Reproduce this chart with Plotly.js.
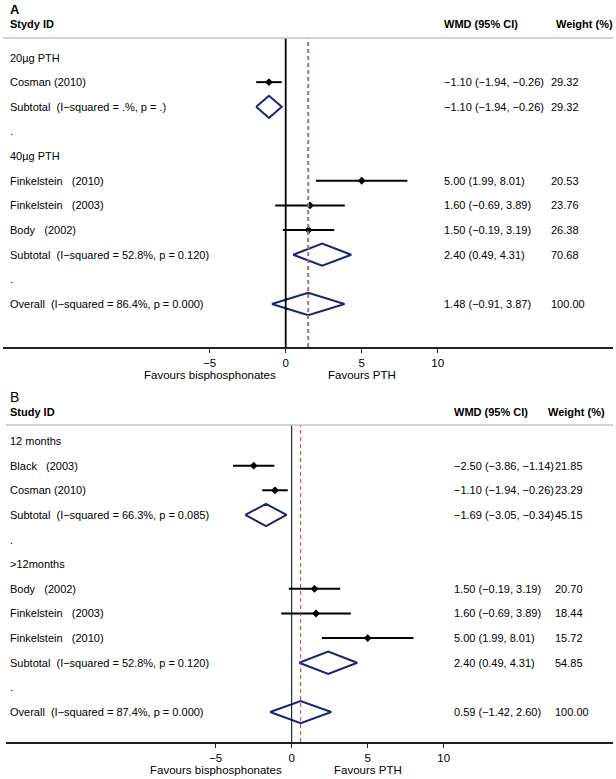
<!DOCTYPE html>
<html>
<head>
<meta charset="utf-8">
<script src="https://cdn.plot.ly/plotly-3.0.1.min.js"></script>
<style>html,body{margin:0;padding:0;background:#fff;}#plot{width:616px;height:779px;}</style>
</head>
<body>
<div id="plot"></div>
<script>
// ---------- DATA ----------
// Panel A
const labelsA = ["20µg PTH", "Cosman (2010)", "Subtotal  (I−squared = .%, p = .)", ".", "40µg PTH",
  "Finkelstein   (2010)", "Finkelstein   (2003)", "Body   (2002)",
  "Subtotal  (I−squared = 52.8%, p = 0.120)", ".", "Overall  (I−squared = 86.4%, p = 0.000)"];
const typesA = ["head", "study", "sub", "blank", "head", "study", "study", "study", "sub", "blank", "overall"];
const estA = [null, -1.10, -1.10, null, null, 5.00, 1.60, 1.50, 2.40, null, 1.48];
const loA  = [null, -1.94, -1.94, null, null, 1.99, -0.69, -0.19, 0.49, null, -0.91];
const hiA  = [null, -0.26, -0.26, null, null, 8.01, 3.89, 3.19, 4.31, null, 3.87];
const wA   = [null, "29.32", "29.32", null, null, "20.53", "23.76", "26.38", "70.68", null, "100.00"];

// Panel B
const labelsB = ["12 months", "Black   (2003)", "Cosman (2010)", "Subtotal  (I−squared = 66.3%, p = 0.085)", ".",
  ">12months", "Body   (2002)", "Finkelstein   (2003)", "Finkelstein   (2010)",
  "Subtotal  (I−squared = 52.8%, p = 0.120)", ".", "Overall  (I−squared = 87.4%, p = 0.000)"];
const typesB = ["head", "study", "study", "sub", "blank", "head", "study", "study", "study", "sub", "blank", "overall"];
const estB = [null, -2.50, -1.10, -1.69, null, null, 1.50, 1.60, 5.00, 2.40, null, 0.59];
const loB  = [null, -3.86, -1.94, -3.05, null, null, -0.19, -0.69, 1.99, 0.49, null, -1.42];
const hiB  = [null, -1.14, -0.26, -0.34, null, null, 3.19, 3.89, 8.01, 4.31, null, 2.60];
const wB   = [null, "21.85", "23.29", "45.15", null, null, "20.70", "18.44", "15.72", "54.85", null, "100.00"];

const tickVals = [-5, 0, 5, 10];
const tickText = ["−5", "0", "5", "10"];

// ---------- STYLE / LAYOUT ----------
const W = 616, H = 779;
const FONT = "Liberation Sans, Arial, sans-serif";
const px = v => v / W;
const py = v => 1 - v / H;
const fmt = v => (v < 0 ? "−" : "") + Math.abs(v).toFixed(2);

const panels = [
  { labels: labelsA, types: typesA, est: estA, lo: loA, hi: hiA, w: wA,
    xa: "x", ya: "y", zeroPx: 285.7, pxPerUnit: 15.2, left: 3, right: 613,
    top: 38, bottom: 347, row0: 57.5, rowStep: 24.65,
    letter: "A", letterBold: true, letterY: 9, headY: 24, headText: "Stydy ID",
    wmdX: 442, wHeadX: 554, wX: 549,
    zeroW: 1.8, dashColor: "#a0727d", dashW: 2 },
  { labels: labelsB, types: typesB, est: estB, lo: loB, hi: hiB, w: wB,
    xa: "x2", ya: "y2", zeroPx: 291.7, pxPerUnit: 15.2, left: 6, right: 613,
    top: 425, bottom: 742, row0: 441, rowStep: 24.64,
    letter: "B", letterBold: false, letterY: 397, headY: 412, headText: "Study ID",
    wmdX: 452, wHeadX: 546, wX: 553,
    zeroW: 1, dashColor: "#c0392b", dashW: 1 }
];

const traces = [];
const shapes = [];
const annotations = [];
const layout = {
  width: W, height: H, margin: { l: 0, r: 0, t: 0, b: 0 },
  paper_bgcolor: "#fff", plot_bgcolor: "rgba(0,0,0,0)", showlegend: false,
  font: { family: FONT, size: 11, color: "#000" }
};

panels.forEach((p, k) => {
  const sfx = k === 0 ? "" : "2";
  const xmin = (p.left - p.zeroPx) / p.pxPerUnit;
  const xmax = (p.right - p.zeroPx) / p.pxPerUnit;
  const rTop = (p.top - p.row0) / p.rowStep;
  const rBot = (p.bottom - p.row0) / p.rowStep;
  layout["xaxis" + sfx] = {
    domain: [px(p.left), px(p.right)], range: [xmin, xmax], anchor: "y" + sfx,
    showline: true, linecolor: "#222", linewidth: 2, mirror: false,
    ticks: "outside", ticklen: 4, tickwidth: 1.2, tickcolor: "#222",
    tickvals: tickVals, ticktext: tickText, tickfont: { family: FONT, size: 11.5, color: "#000" },
    showgrid: false, zeroline: false, fixedrange: true
  };
  layout["yaxis" + sfx] = {
    domain: [py(p.bottom), py(p.top)], range: [rBot, rTop], anchor: "x" + sfx,
    visible: false, showgrid: false, zeroline: false, fixedrange: true
  };

  // zero line & overall dashed line
  const ovIdx = p.types.indexOf("overall");
  shapes.push({ type: "line", xref: p.xa, yref: p.ya + " domain", x0: 0, x1: 0, y0: 0, y1: 1,
    line: { color: "#000", width: p.zeroW } });
  shapes.push({ type: "line", xref: p.xa, yref: p.ya + " domain", x0: p.est[ovIdx], x1: p.est[ovIdx], y0: 0, y1: 1,
    line: { color: p.dashColor, width: p.dashW, dash: "4px,3px" } });
  // header separator
  shapes.push({ type: "line", xref: "paper", yref: "paper", x0: px(p.left), x1: px(p.right),
    y0: py(p.top), y1: py(p.top), line: { color: "#c4c4c4", width: 1.5 } });

  // CI lines and point estimates for studies
  const ciX = [], ciY = [], ptX = [], ptY = [];
  p.types.forEach((t, i) => {
    if (t === "study") {
      ciX.push(p.lo[i], p.hi[i], null); ciY.push(i, i, null);
      ptX.push(p.est[i]); ptY.push(i);
    }
  });
  traces.push({ type: "scatter", mode: "lines", x: ciX, y: ciY, xaxis: p.xa, yaxis: p.ya,
    line: { color: "#000", width: 2 }, hoverinfo: "skip" });
  traces.push({ type: "scatter", mode: "markers", x: ptX, y: ptY, xaxis: p.xa, yaxis: p.ya,
    marker: { symbol: "diamond", size: 6, color: "#000" }, hoverinfo: "skip" });

  // diamonds for subtotal / overall
  p.types.forEach((t, i) => {
    if (t === "sub" || t === "overall") {
      const h = 0.45;
      traces.push({ type: "scatter", mode: "lines", xaxis: p.xa, yaxis: p.ya,
        x: [p.lo[i], p.est[i], p.hi[i], p.est[i], p.lo[i]],
        y: [i, i - h, i, i + h, i],
        line: { color: "#1b2470", width: 2 }, hoverinfo: "skip" });
    }
  });

  // texts
  annotations.push({ xref: "paper", yref: "paper", x: px(8), y: py(p.letterY), xanchor: "left", yanchor: "middle",
    showarrow: false, text: p.letterBold ? "<b>" + p.letter + "</b>" : p.letter,
    font: { family: FONT, size: p.letterBold ? 13 : 14, color: "#000" } });
  [[8, p.headText], [p.wmdX, "WMD (95% CI)"], [p.wHeadX, "Weight (%)"]].forEach(([x, s]) => {
    annotations.push({ xref: "paper", yref: "paper", x: px(x), y: py(p.headY), xanchor: "left", yanchor: "middle",
      showarrow: false, text: "<b>" + s + "</b>", font: { family: FONT, size: 11, color: "#000" } });
  });
  p.labels.forEach((s, i) => {
    annotations.push({ xref: "paper", yref: p.ya, x: px(8), y: i, xanchor: "left", yanchor: "middle",
      showarrow: false, text: s.replace(/ /g, "\u00a0"), font: { family: FONT, size: 11, color: "#000" } });
    if (p.est[i] !== null) {
      annotations.push({ xref: "paper", yref: p.ya, x: px(p.wmdX), y: i, xanchor: "left", yanchor: "middle",
        showarrow: false, text: fmt(p.est[i]) + " (" + fmt(p.lo[i]) + ", " + fmt(p.hi[i]) + ")",
        font: { family: FONT, size: 11, color: "#000" } });
      annotations.push({ xref: "paper", yref: p.ya, x: px(p.wX), y: i, xanchor: "left", yanchor: "middle",
        showarrow: false, text: p.w[i], font: { family: FONT, size: 11, color: "#000" } });
    }
  });
  // favours labels
  const favY = p.bottom + 28;
  annotations.push({ xref: p.xa, yref: "paper", x: -5, y: py(favY), xanchor: "center", yanchor: "middle",
    showarrow: false, text: "Favours bisphosphonates", font: { family: FONT, size: 11.5, color: "#000" } });
  annotations.push({ xref: p.xa, yref: "paper", x: 5, y: py(favY), xanchor: "center", yanchor: "middle",
    showarrow: false, text: "Favours PTH", font: { family: FONT, size: 11.5, color: "#000" } });
});

layout.shapes = shapes;
layout.annotations = annotations;

Plotly.newPlot("plot", traces, layout, { staticPlot: true, displayModeBar: false });
</script>
</body>
</html>
